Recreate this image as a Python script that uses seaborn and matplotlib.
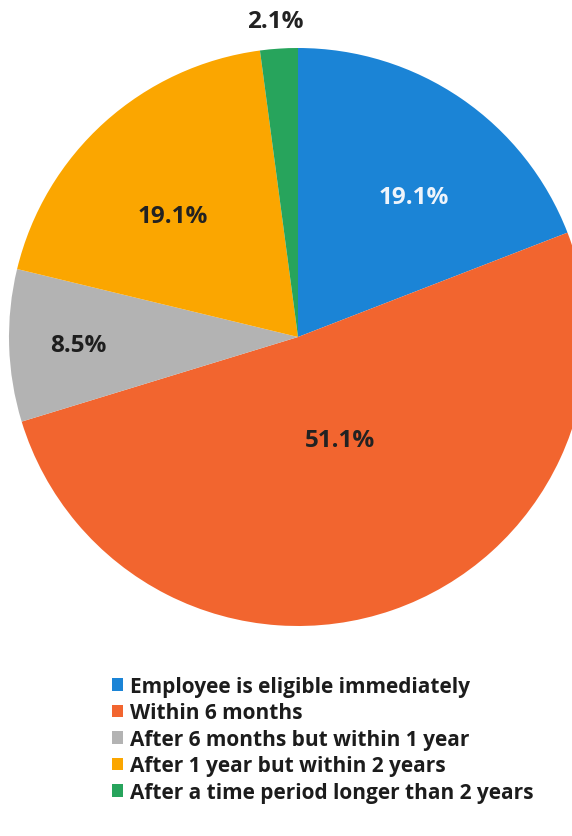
import numpy as np
import matplotlib
matplotlib.use("Agg")
import matplotlib.pyplot as plt
from matplotlib.patches import Patch
import seaborn as sns

# Waiting period before employees become eligible
categories = [
    "Employee is eligible immediately",
    "Within 6 months",
    "After 6 months but within 1 year",
    "After 1 year but within 2 years",
    "After a time period longer than 2 years",
]
shares = [19.1, 51.1, 8.5, 19.1, 2.1]
label_texts = ["19.1%", "51.1%", "8.5%", "19.1%", "2.1%"]

colors = sns.color_palette(["#1b84d6", "#f2652f", "#b3b3b3", "#fba600", "#27a45c"])
label_colors = ["#eef4fb", "#222222", "#1e1e1e", "#222222", "#222222"]
# label placement: radial distance (fraction of radius) and angular nudge (deg)
label_radius = [0.63, 0.385, 0.762, 0.602, 1.097]
label_nudge = [-5.2, 2.9, 0.3, 4.1, 0.4]

sns.set_theme(style="white")
plt.rcParams["font.family"] = ["Open Sans", "DejaVu Sans"]

W, H = 572, 837
fig = plt.figure(figsize=(W / 100, H / 100), dpi=100)
ax = fig.add_axes([0, 0, 1, 1])

cx, cy, r = 298, H - 338, 289
wedges, _ = ax.pie(
    shares,
    colors=colors,
    startangle=90,
    counterclock=False,
    center=(cx, cy),
    radius=r,
    wedgeprops=dict(linewidth=0),
)
ax.set_xlim(0, W)
ax.set_ylim(0, H)
ax.set_aspect("auto")
ax.axis("off")

for w, txt, col, d, nd in zip(wedges, label_texts, label_colors,
                              label_radius, label_nudge):
    mid = np.deg2rad((w.theta1 + w.theta2) / 2 + nd)
    ax.text(cx + d * r * np.cos(mid), cy + d * r * np.sin(mid), txt,
            ha="center", va="center", fontsize=17.5, fontweight="bold",
            color=col)

handles = [Patch(facecolor=c, edgecolor="none") for c in colors]
fig.legend(handles, categories, loc="upper left",
           bbox_to_anchor=(112 / W, 1 - 677 / H), frameon=False,
           handlelength=0.55, handleheight=0.55, handletextpad=0.3,
           labelspacing=0.26, borderpad=0, borderaxespad=0,
           prop=dict(size=15, weight="bold"), labelcolor="#1c1c1c")

fig.savefig("out.png", dpi=100, facecolor="white")
